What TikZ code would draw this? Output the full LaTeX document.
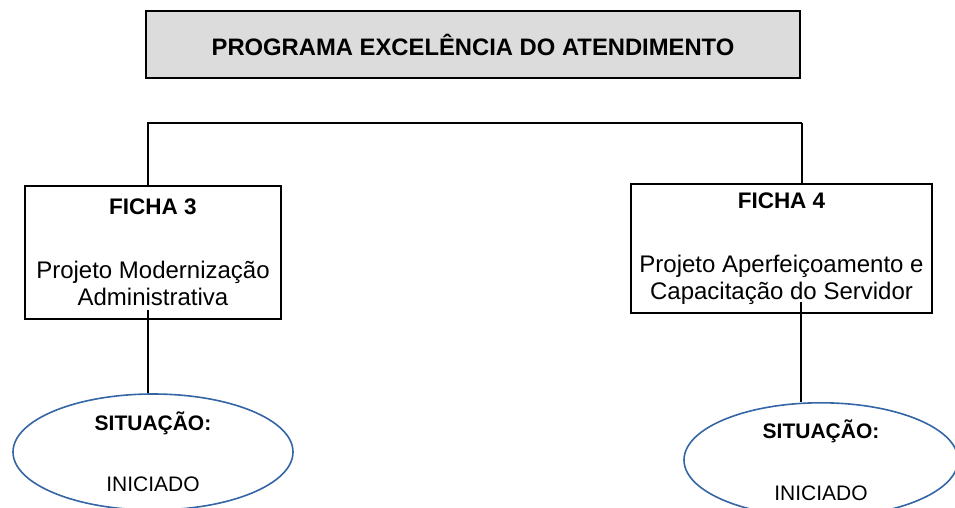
\documentclass[tikz,border=0pt]{standalone}
\usepackage{fontspec}
\setmainfont{Liberation Sans}
\usetikzlibrary{shapes.geometric}
\definecolor{azul}{RGB}{52,101,164}
\definecolor{cinza}{RGB}{220,220,220}

\begin{document}
\begin{tikzpicture}[x=1pt,y=-1pt,
	titulo/.style={draw,rectangle,fill=cinza,line width=1.8pt,font=\fontsize{23.8}{28}\selectfont\bfseries},
	ficha/.style={draw,rectangle,line width=1.8pt,align=center,inner sep=0pt,font=\fontsize{24}{27}\selectfont},
	situacao/.style={draw=azul,ellipse,line width=1.6pt,inner sep=0pt,align=center,font=\fontsize{21}{25}\selectfont},
	linha/.style={line width=1.5pt}]

\useasboundingbox (0,0) rectangle (955,508);

%-------------------------------------------------------------------------------
% Programa
%-------------------------------------------------------------------------------
\node (programa) [titulo,minimum width=654pt,minimum height=67pt] at (473,44.5) {PROGRAMA EXCELÊNCIA DO ATENDIMENTO};

\coordinate (barraesq)	at (148,123);
\coordinate (barradir)	at (802,123);

%-------------------------------------------------------------------------------
% Ficha 3
%-------------------------------------------------------------------------------
\node (ficha3) [ficha,minimum width=256pt,minimum height=133pt] at (153,252.5)
	{\fontsize{22.5}{27}\selectfont\textbf{FICHA 3}\\[37pt]Projeto Modernização\\Administrativa};
\draw [linha] (ficha3.north -| barraesq) -- (barraesq) -- (barradir);

\node (sit3) [situacao,minimum width=280pt,minimum height=116pt] at (153,452)
	{\textbf{SITUAÇÃO:}\\[36pt]INICIADO};
\coordinate (f3baixo) at (148,310);
\draw [linha] (f3baixo) -- (f3baixo |- sit3.north);

%-------------------------------------------------------------------------------
% Ficha 4
%-------------------------------------------------------------------------------
\node (ficha4) [ficha,minimum width=301pt,minimum height=129pt] at (781.5,248.5)
	{\fontsize{22.5}{27}\selectfont\textbf{FICHA 4}\\[37pt]Projeto Aperfeiçoamento e\\Capacitação do Servidor};
\draw [linha] (barradir) -- (ficha4.north -| barradir);

\node (sit4) [situacao,minimum width=274pt,minimum height=106pt] at (821,460)
	{\textbf{SITUAÇÃO:}\\[37pt]INICIADO};
\coordinate (f4baixo) at (801,302);
\draw [linha] (f4baixo) -- (f4baixo |- sit4.north);
\end{tikzpicture}
\end{document}
